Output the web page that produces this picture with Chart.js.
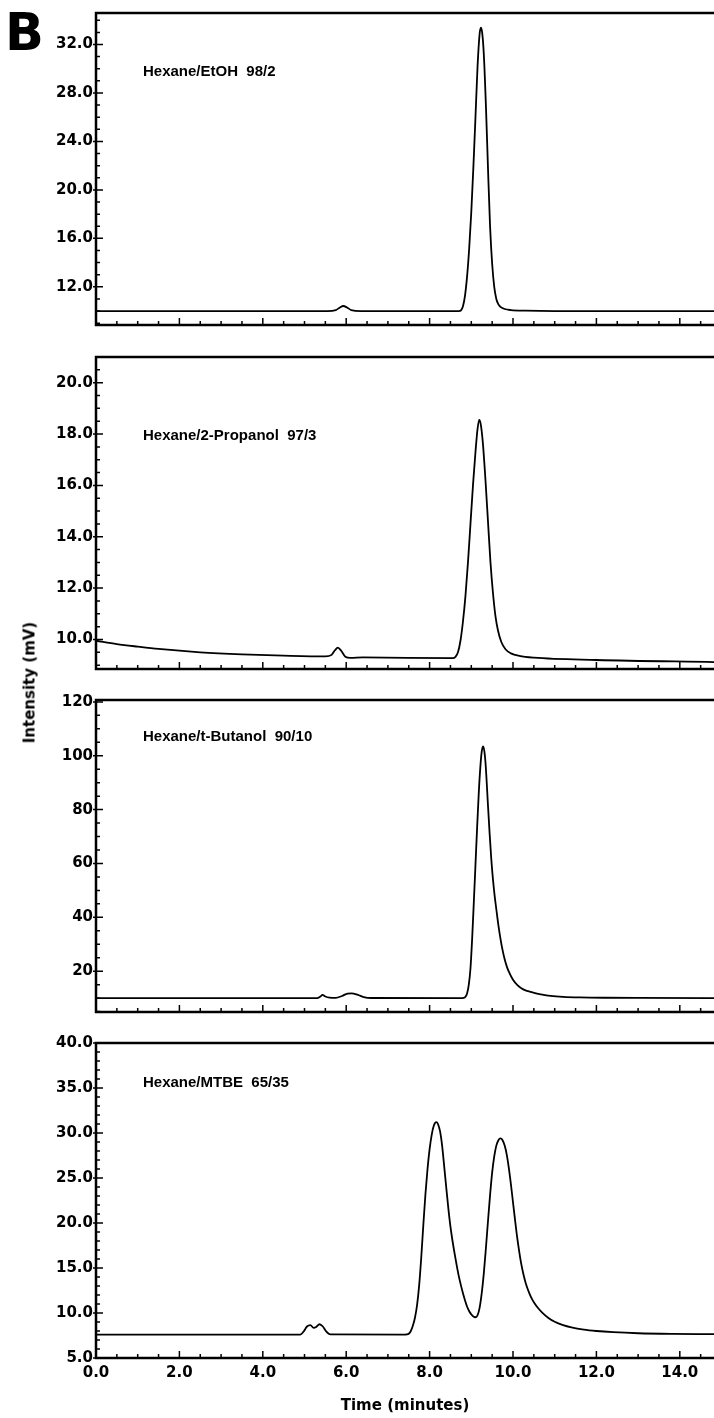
<!DOCTYPE html>
<html>
<head>
<meta charset="utf-8">
<script src="https://cdn.jsdelivr.net/npm/chart.js@4.4.1/dist/chart.umd.min.js"></script>
<style>
  body { margin: 0; background: #fff; }
  #page { position: relative; width: 714px; height: 1418px; overflow: hidden; background: #fff; }
  canvas { position: absolute; left: 0; }
  .txt { position: absolute; font-family: 'DejaVu Sans', sans-serif; font-weight: bold; color: #000; white-space: nowrap; line-height: 1; }
  .title { font-family: 'Liberation Sans', Arial, sans-serif; font-size: 15px; left: 143px; }
</style>
</head>
<body>
<div id="page">
  <canvas id="p1" width="714" height="336" style="top:1px"></canvas>
  <canvas id="p2" width="714" height="336" style="top:345px"></canvas>
  <canvas id="p3" width="714" height="336" style="top:688px"></canvas>
  <canvas id="p4" width="714" height="387" style="top:1031px"></canvas>

  <div class="txt" style="left:5px; top:7px; font-size:51px">B</div>
  <div class="txt title" style="top:63px">Hexane/EtOH&nbsp; 98/2</div>
  <div class="txt title" style="top:427px">Hexane/2-Propanol&nbsp; 97/3</div>
  <div class="txt title" style="top:728px">Hexane/t-Butanol&nbsp; 90/10</div>
  <div class="txt title" style="top:1074px">Hexane/MTBE&nbsp; 65/35</div>
  <div class="txt" style="left:-70px; top:675px; width:200px; text-align:center; font-size:15px; transform:rotate(-90deg)">Intensity (mV)</div>
</div>
<script>
// retention time (min) and detector signal (mV)
const time1 = [0, 5.55, 5.75, 5.85, 5.93, 6.02, 6.12, 6.35, 8.7, 8.75, 8.8, 8.85, 8.9, 8.95, 9.0, 9.05, 9.1, 9.15, 9.2, 9.23, 9.26, 9.3, 9.35, 9.4, 9.45, 9.5, 9.55, 9.6, 9.65, 9.7, 9.8, 9.95, 10.3, 11.0, 14.82]
const sig1 = [10.0, 10.0, 10.08, 10.3, 10.42, 10.3, 10.08, 10.0, 10.0, 10.05, 10.4, 11.3, 12.9, 15.2, 18.2, 21.9, 26.0, 30.2, 32.9, 33.4, 33.0, 31.2, 27.0, 21.8, 17.0, 13.9, 12.0, 11.0, 10.55, 10.35, 10.17, 10.08, 10.03, 10.0, 10.0]

const time2 = [0, 0.5, 1.0, 1.5, 2.5, 3.5, 4.5, 5.5, 5.65, 5.73, 5.8, 5.88, 5.98, 6.1, 6.4, 8.55, 8.62, 8.68, 8.74, 8.8, 8.86, 8.92, 8.98, 9.04, 9.1, 9.15, 9.19, 9.23, 9.28, 9.34, 9.4, 9.46, 9.52, 9.58, 9.64, 9.72, 9.82, 9.95, 10.15, 10.5, 12.0, 14.82]
const sig2 = [9.95, 9.82, 9.72, 9.63, 9.5, 9.42, 9.37, 9.34, 9.4, 9.58, 9.68, 9.56, 9.33, 9.28, 9.3, 9.27, 9.32, 9.5, 9.95, 10.7, 11.7, 13.0, 14.5, 16.0, 17.3, 18.2, 18.55, 18.35, 17.6, 16.2, 14.6, 13.0, 11.8, 10.9, 10.35, 9.9, 9.62, 9.46, 9.36, 9.29, 9.2, 9.12]

const time3 = [0, 5.3, 5.38, 5.43, 5.5, 5.6, 5.75, 5.9, 6.03, 6.13, 6.28, 6.42, 6.6, 8.78, 8.82, 8.86, 8.9, 8.94, 8.98, 9.02, 9.06, 9.1, 9.14, 9.18, 9.22, 9.25, 9.28, 9.31, 9.34, 9.37, 9.4, 9.44, 9.48, 9.52, 9.56, 9.6, 9.65, 9.7, 9.75, 9.8, 9.85, 9.9, 10.0, 10.1, 10.2, 10.3, 10.4, 10.55, 10.7, 10.9, 11.2, 11.6, 12.2, 13.0, 14.82]
const sig3 = [10.0, 10.0, 10.6, 11.2, 10.6, 10.2, 10.1, 10.8, 11.7, 11.8, 11.2, 10.4, 10.05, 10.0, 10.05, 10.5, 11.8, 15.0, 21.0, 32.0, 45.5, 59.5, 73.5, 86.5, 96.5, 101.5, 103.5, 102.0, 97.5, 90.0, 81.5, 71.0, 61.5, 54.0, 48.0, 43.0, 37.0, 32.0, 27.8, 24.4, 21.8, 19.8, 16.8, 14.9, 13.7, 12.9, 12.4, 11.8, 11.3, 10.85, 10.5, 10.28, 10.14, 10.07, 10.03]

const time4 = [0, 4.9, 4.98, 5.06, 5.14, 5.22, 5.28, 5.36, 5.44, 5.52, 5.62,
  7.4, 7.45, 7.5, 7.55, 7.6, 7.65, 7.7, 7.75, 7.8, 7.85, 7.9, 7.95, 8.0, 8.05, 8.1, 8.16,
  8.2, 8.25, 8.3, 8.35, 8.4, 8.45, 8.5, 8.55, 8.6, 8.65, 8.7, 8.75, 8.8, 8.85, 8.9, 8.95, 9.0, 9.05, 9.1,
  9.15, 9.2, 9.25, 9.3, 9.35, 9.4, 9.45, 9.5, 9.55, 9.6, 9.65, 9.7, 9.75, 9.8, 9.85, 9.9, 9.95, 10.0,
  10.05, 10.1, 10.15, 10.2, 10.25, 10.3, 10.35, 10.4, 10.45, 10.5, 10.6, 10.7, 10.85, 11.0, 11.2, 11.4, 11.7, 12.0, 12.4, 13.0, 13.8, 14.82]
const sig4 = [7.6, 7.6, 7.95, 8.5, 8.65, 8.35, 8.45, 8.75, 8.5, 7.95, 7.62,
  7.6, 7.62, 7.7, 8.0, 8.6, 9.5, 10.9, 13.1, 16.2, 19.8, 23.2, 26.0, 28.2, 29.8, 30.8, 31.2,
  31.0, 30.2, 28.6, 26.3, 23.9, 21.6, 19.6, 18.0, 16.6, 15.3, 14.1, 13.1, 12.2, 11.4, 10.7, 10.2, 9.85, 9.62, 9.53,
  9.75, 10.6, 12.2, 14.4, 17.2, 20.2, 23.1, 25.6, 27.4, 28.6, 29.2, 29.4, 29.2, 28.6, 27.6, 26.1, 24.3, 22.3,
  20.3, 18.4, 16.8, 15.4, 14.3, 13.4, 12.7, 12.1, 11.6, 11.2, 10.55, 10.05, 9.45, 9.02, 8.65, 8.4, 8.15, 8.0, 7.87, 7.75, 7.68, 7.65]

// tick labels
const xTicks = [0, 2, 4, 6, 8, 10, 12, 14]
const yTicks1 = [12, 16, 20, 24, 28, 32]
const yTicks2 = [10, 12, 14, 16, 18, 20]
const yTicks3 = [20, 40, 60, 80, 100, 120]
const yTicks4 = [5, 10, 15, 20, 25, 30, 35, 40]

const xMax = 14.82
const font = { family: "'DejaVu Sans', sans-serif", weight: 'bold', size: 15 }

const panels = [
  { id: 'p1', time: time1, signal: sig1, yMin: 8.85, yMax: 34.6, yTicks: yTicks1, minor: 1, decimals: 1, last: false },
  { id: 'p2', time: time2, signal: sig2, yMin: 8.85, yMax: 21.0, yTicks: yTicks2, minor: 0.5, decimals: 1, last: false },
  { id: 'p3', time: time3, signal: sig3, yMin: 4.85, yMax: 120.7, yTicks: yTicks3, minor: 5, decimals: 0, last: false },
  { id: 'p4', time: time4, signal: sig4, yMin: 5, yMax: 40, yTicks: yTicks4, minor: 1, decimals: 1, last: true },
]

// box frame plus inward tick marks, the way the instrument printout draws them
const framePlugin = {
  id: 'frame',
  afterDraw(chart, args, opts) {
    const { ctx, chartArea: a, scales: { x, y } } = chart
    ctx.save()
    ctx.strokeStyle = '#000'
    ctx.lineWidth = 2.5
    ctx.beginPath()
    ctx.moveTo(a.right + 2, a.top)
    ctx.lineTo(a.left, a.top)
    ctx.lineTo(a.left, a.bottom)
    ctx.lineTo(a.right + 2, a.bottom)
    ctx.stroke()

    ctx.lineWidth = 1.5
    ctx.beginPath()
    for (let i = 0; i * 0.5 <= xMax; i++) {
      const px = x.getPixelForValue(i * 0.5)
      ctx.moveTo(px, a.bottom)
      ctx.lineTo(px, a.bottom - (i % 4 === 0 ? 7 : 4))
    }
    const start = Math.ceil(y.min / opts.minor)
    for (let i = start; i * opts.minor <= y.max + 1e-6; i++) {
      const v = i * opts.minor
      const py = y.getPixelForValue(v)
      const major = opts.yTicks.some((t) => Math.abs(t - v) < 1e-6)
      ctx.moveTo(major ? a.left - 3 : a.left, py)
      ctx.lineTo(a.left + (major ? 7 : 4), py)
    }
    ctx.stroke()
    ctx.restore()
  },
}

panels.forEach((p) => {
  const canvas = document.getElementById(p.id)
  new Chart(canvas, {
    type: 'line',
    data: {
      datasets: [
        {
          data: p.time.map((t, i) => ({ x: t, y: p.signal[i] })),
          borderColor: '#000',
          borderWidth: 1.8,
          pointRadius: 0,
          fill: false,
          cubicInterpolationMode: 'monotone',
          borderJoinStyle: 'round',
        },
      ],
    },
    options: {
      responsive: false,
      animation: false,
      devicePixelRatio: 1,
      layout: { padding: { top: 10, bottom: p.last ? 0 : 10, left: 0, right: 0 } },
      plugins: {
        legend: { display: false },
        tooltip: { enabled: false },
        frame: { minor: p.minor, yTicks: p.yTicks },
      },
      scales: {
        x: {
          type: 'linear',
          min: 0,
          max: xMax,
          grid: { display: false, drawTicks: false },
          border: { display: false },
          afterBuildTicks: (s) => { s.ticks = xTicks.map((v) => ({ value: v })) },
          afterFit: (s) => { s.height = p.last ? 60 : 0 },
          ticks: {
            display: p.last,
            autoSkip: false,
            maxRotation: 0,
            padding: 6,
            color: '#000',
            font,
            callback: (v) => v.toFixed(1),
          },
          title: {
            display: p.last,
            text: 'Time (minutes)',
            color: '#000',
            font,
            padding: { top: 0, bottom: 3 },
          },
        },
        y: {
          min: p.yMin,
          max: p.yMax,
          grid: { display: false, drawTicks: false },
          border: { display: false },
          afterBuildTicks: (s) => { s.ticks = p.yTicks.map((v) => ({ value: v })) },
          afterFit: (s) => { s.width = 96 },
          ticks: {
            padding: 3,
            color: '#000',
            font,
            callback: (v) => v.toFixed(p.decimals),
          },
        },
      },
    },
    plugins: [framePlugin],
  })
})
</script>
</body>
</html>
